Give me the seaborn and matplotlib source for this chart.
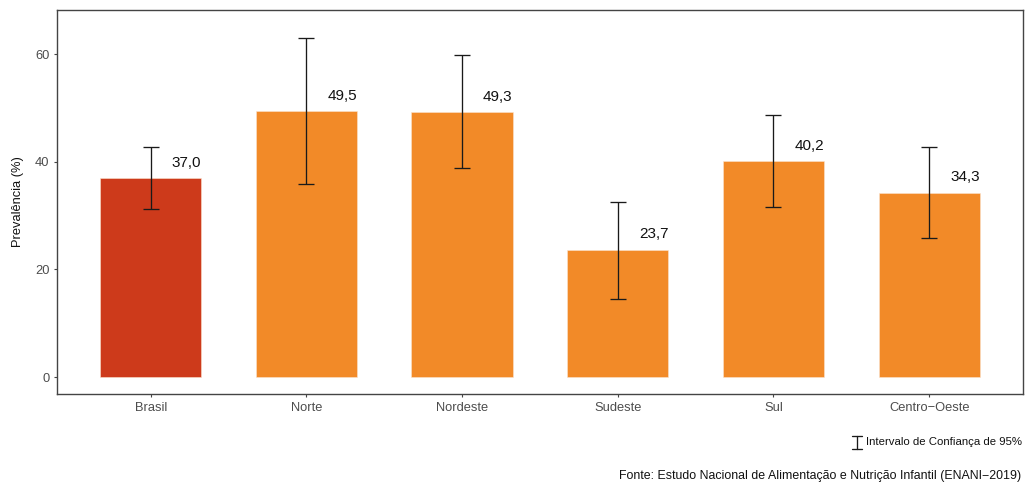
import matplotlib
matplotlib.use("Agg")
import matplotlib.pyplot as plt
from matplotlib.lines import Line2D
import seaborn as sns
import pandas as pd

# Prevalence by region with 95% confidence intervals
regioes = ["Brasil", "Norte", "Nordeste", "Sudeste", "Sul", "Centro−Oeste"]
prevalencia = [37.0, 49.5, 49.3, 23.7, 40.2, 34.3]
ic_inferior = [31.2, 35.9, 38.8, 14.6, 31.6, 25.9]
ic_superior = [42.7, 63.1, 59.9, 32.6, 48.7, 42.7]
y_ticks = [0, 20, 40, 60]

cores = {r: "#F28A28" for r in regioes}
cores["Brasil"] = "#CD3A1B"

df = pd.DataFrame({"regiao": regioes, "prev": prevalencia,
                   "lo": ic_inferior, "hi": ic_superior})

sns.set_theme(style="white")
plt.rcParams["font.family"] = ["Liberation Sans", "DejaVu Sans"]

fig = plt.figure(figsize=(10.25, 4.84), dpi=100)
ax = fig.add_axes([0.0559, 0.1853, 0.9417, 0.795])

sns.barplot(data=df, x="regiao", y="prev", hue="regiao", palette=cores,
            order=regioes, hue_order=regioes, width=0.65, legend=False,
            saturation=1, ax=ax, edgecolor="#FBE3CF", linewidth=0.4)

xs = range(len(regioes))
ax.errorbar(xs, df["prev"],
            yerr=[df["prev"] - df["lo"], df["hi"] - df["prev"]],
            fmt="none", ecolor="#1a1a1a", elinewidth=0.95, capsize=5.6,
            capthick=0.95, zorder=5)

for i, v in enumerate(prevalencia):
    ax.text(i + 0.23, v + 2.8, f"{v:.1f}".replace(".", ","),
            ha="center", va="center", fontsize=11, color="#111111")

ax.set_xlim(-0.6, len(regioes) - 0.4)
ax.set_ylim(-3.2, 68.3)
ax.set_yticks(y_ticks)
ax.set_xlabel("")
ax.set_ylabel("Prevalência (%)", fontsize=9.3, color="#111111", labelpad=8)
ax.tick_params(axis="both", which="both", length=2.5, width=0.8,
               color="#444444", labelsize=9.3, labelcolor="#4D4D4D",
               left=True, bottom=True, pad=3)
for s in ax.spines.values():
    s.set_visible(True)
    s.set_color("#444444")
    s.set_linewidth(1.0)
ax.grid(False)

# Confidence interval key
gx, gy0, gy1 = 857 / 1025, 1 - 449 / 484, 1 - 436 / 484
cw = 5 / 1025
for ln in [([gx, gx], [gy0, gy1]), ([gx - cw, gx + cw], [gy0, gy0]),
           ([gx - cw, gx + cw], [gy1, gy1])]:
    fig.add_artist(Line2D(ln[0], ln[1], transform=fig.transFigure,
                          color="#1a1a1a", linewidth=0.95))
fig.text(866 / 1025, 1 - 442 / 484, "Intervalo de Confiança de 95%",
         ha="left", va="center", fontsize=8.2, color="#111111")
fig.text(1021 / 1025, 1 - 476 / 484,
         "Fonte: Estudo Nacional de Alimentação e Nutrição Infantil (ENANI−2019)",
         ha="right", va="center", fontsize=8.9, color="#111111")

fig.savefig("out.png", dpi=100)
